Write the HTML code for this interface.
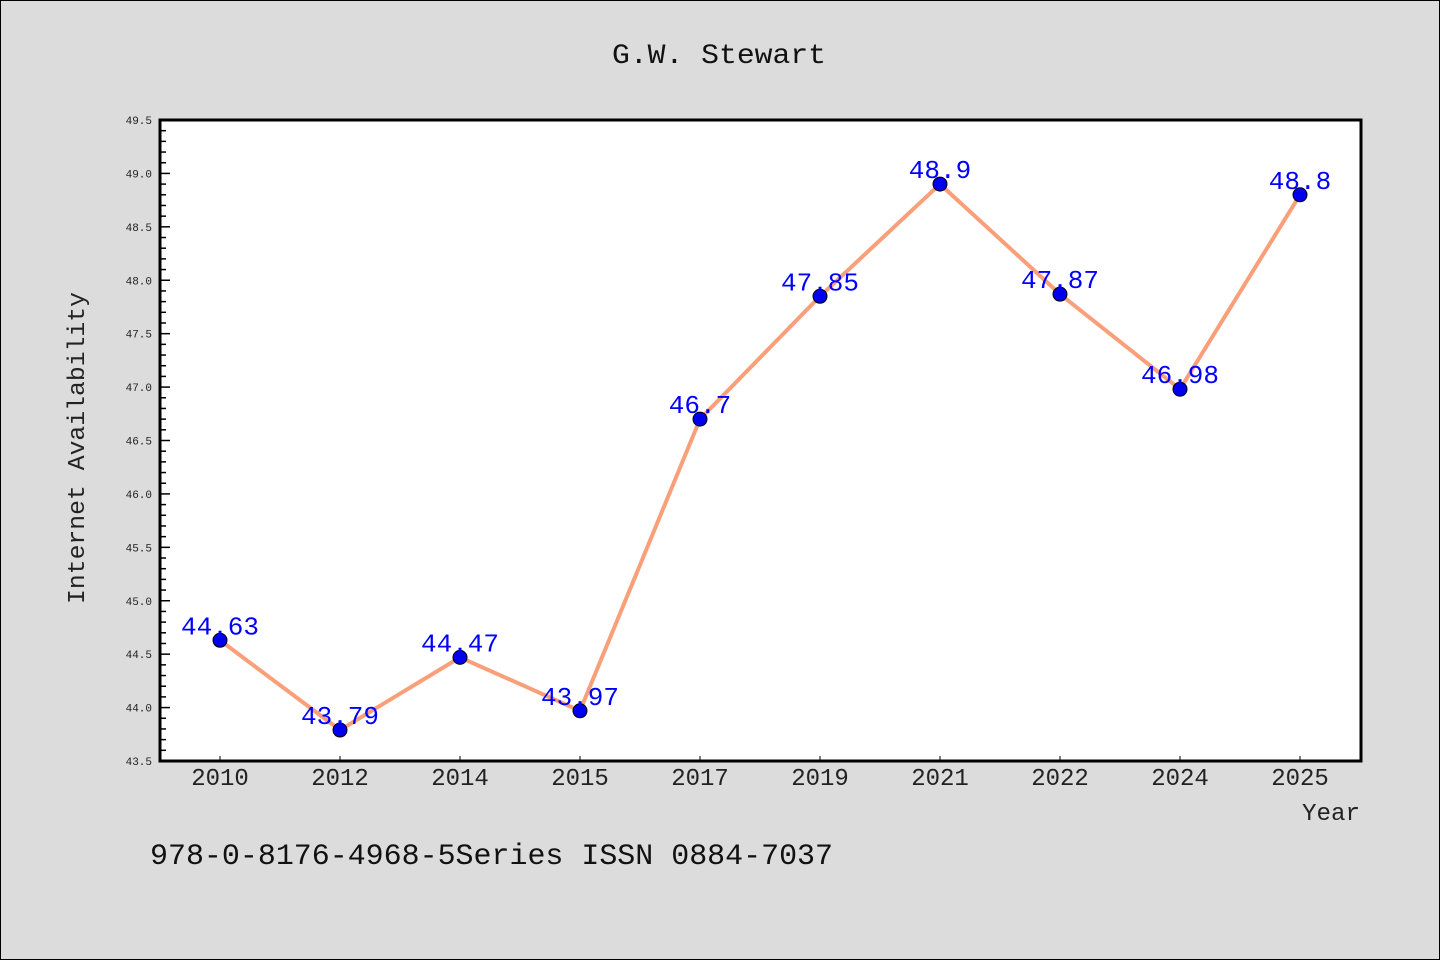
<!DOCTYPE html>
<html><head><meta charset="utf-8"><style>
body{margin:0;background:#dcdcdc;}
svg{display:block;font-family:"WenQuanYi Zen Hei Mono","WenQuanYi Zen Hei","Liberation Mono",monospace;}
</style></head><body>
<svg id="c" width="1440" height="960" xmlns="http://www.w3.org/2000/svg">
<rect x="0.5" y="0.5" width="1439" height="959" fill="#dcdcdc" stroke="#000"/>
<text x="612" y="63" font-size="28" fill="#111" textLength="214" lengthAdjust="spacingAndGlyphs">G.W. Stewart</text>
<rect x="160" y="120" width="1201" height="641" fill="#fff"/>
<g id="axes"></g>
<g id="marks"></g>
<rect x="160" y="120" width="1201" height="641" fill="none" stroke="#000" stroke-width="3"/>
<text x="84" y="604" transform="rotate(-90 84 604)" font-size="24" fill="#222" textLength="312" lengthAdjust="spacingAndGlyphs">Internet Availability</text>
<text x="1302" y="820" font-size="24" fill="#222" textLength="58" lengthAdjust="spacingAndGlyphs">Year</text>
<text x="150" y="864" font-size="30" fill="#111" textLength="683" lengthAdjust="spacingAndGlyphs">978-0-8176-4968-5Series ISSN 0884-7037</text>
</svg>
<script>
const categories=["2010","2012","2014","2015","2017","2019","2021","2022","2024","2025"];
const values=[44.63,43.79,44.47,43.97,46.7,47.85,48.9,47.87,46.98,48.8];
const labels=["44.63","43.79","44.47","43.97","46.7","47.85","48.9","47.87","46.98","48.8"];
const yTicks=[43.5,44.0,44.5,45.0,45.5,46.0,46.5,47.0,47.5,48.0,48.5,49.0,49.5];
const NS="http://www.w3.org/2000/svg";
const yMin=43.5,yMax=49.5,pTop=120,pBot=761,pLeft=160;
const sy=v=>pBot-(v-yMin)/(yMax-yMin)*(pBot-pTop);
const sx=i=>220+i*120;
function mk(t,a,p){const e=document.createElementNS(NS,t);for(const k in a)e.setAttribute(k,a[k]);p.appendChild(e);return e;}
const ax=document.getElementById('axes'),mg=document.getElementById('marks');
for(let k=0;k<=60;k++){const v=yMin+k*0.1;const major=k%5===0;
const t=mk('line',{x1:pLeft,x2:pLeft+(major?10:6),y1:sy(v),y2:sy(v),stroke:'#000','stroke-width':1.5},ax);

}
yTicks.forEach(v=>{const t=mk('text',{x:152,y:sy(v)+4,'text-anchor':'end','font-size':11,fill:'#222'},ax);t.textContent=v.toFixed(1);

});
categories.forEach((c,i)=>{const t=mk('line',{x1:sx(i),x2:sx(i),y1:pBot,y2:pBot-5,stroke:'#000','stroke-width':1},ax);


const l=mk('text',{x:sx(i),y:785,'text-anchor':'middle','font-size':24,fill:'#222'},ax);l.textContent=c;

});
const line=mk('polyline',{points:values.map((v,i)=>sx(i)+','+sy(v)).join(' '),fill:'none',stroke:'#f9a07a','stroke-width':4,'stroke-linejoin':'round'},mg);


values.forEach((v,i)=>{const p=mk('circle',{cx:sx(i),cy:sy(v),r:7,fill:'#0000ee',stroke:'#000','stroke-width':1},mg);


const t=mk('text',{x:sx(i),y:sy(v)-6,'text-anchor':'middle','font-size':26,fill:'#0000ff'},mg);t.textContent=labels[i];

});
</script>
</body></html>
